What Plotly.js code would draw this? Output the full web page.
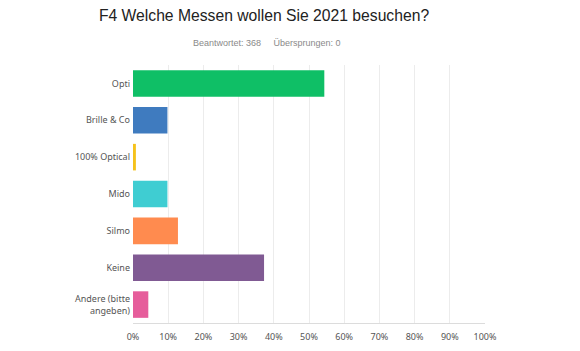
<!DOCTYPE html>
<html>
<head>
<meta charset="utf-8">
<script src="https://cdn.plot.ly/plotly-3.0.1.min.js"></script>
<style>html,body{margin:0;padding:0;background:#fff;}#chart{width:580px;height:351px;}</style>
</head>
<body>
<div id="chart"></div>
<script>
const categories = ["Opti", "Brille & Co", "100% Optical", "Mido", "Silmo", "Keine", "Andere (bitte<br>angeben)"];
const percents = [54.35, 9.78, 0.82, 9.78, 12.77, 37.23, 4.35];
const barColors = ["#0fbf66", "#3f7bbf", "#f5c21b", "#3fcdd2", "#ff8b4f", "#805a93", "#e65d9b"];
const xTickVals = [0, 10, 20, 30, 40, 50, 60, 70, 80, 90, 100];
const xTickText = ["0%", "10%", "20%", "30%", "40%", "50%", "60%", "70%", "80%", "90%", "100%"];

const trace = {
  type: "bar",
  orientation: "h",
  y: categories,
  x: percents,
  marker: {color: barColors},
  width: 0.72,
  hoverinfo: "none"
};

const layout = {
  width: 580,
  height: 351,
  margin: {l: 133, r: 95, t: 65, b: 27.5},
  paper_bgcolor: "#fff",
  plot_bgcolor: "#fff",
  showlegend: false,
  title: {
    text: "F4 Welche Messen wollen Sie 2021 besuchen?",
    font: {family: "Liberation Sans, Arial, sans-serif", size: 15.7, color: "#222"},
    xref: "container", yref: "container",
    x: 264/580, y: 1 - 16/351, xanchor: "center", yanchor: "middle"
  },
  annotations: [{
    text: "Beantwortet: 368&nbsp;&nbsp;&nbsp;&nbsp;&nbsp;Übersprungen: 0",
    xref: "paper", yref: "paper",
    x: (267 - 133) / 352, y: 1 + (65 - 43) / 258.5,
    xanchor: "center", yanchor: "middle",
    showarrow: false,
    font: {family: "Liberation Sans, Arial, sans-serif", size: 9, color: "#8a8a8a"}
  }],
  xaxis: {
    range: [0, 100],
    tickvals: xTickVals,
    ticktext: xTickText,
    showgrid: true,
    gridcolor: "#ececec",
    gridwidth: 1,
    zeroline: false,
    showline: true,
    linecolor: "#dcdcdc",
    linewidth: 1,
    ticks: "",
    ticklabelstandoff: 5,
    tickfont: {family: "Noto Sans, sans-serif", size: 9, color: "#555"},
    fixedrange: true
  },
  yaxis: {
    autorange: "reversed",
    showgrid: false,
    zeroline: false,
    showline: false,
    ticks: "",
    ticklabelstandoff: 2,
    tickfont: {family: "Noto Sans, sans-serif", size: 9, color: "#555"},
    fixedrange: true
  },
  bargap: 0.28
};

Plotly.newPlot("chart", [trace], layout, {displayModeBar: false, staticPlot: true});
</script>
</body>
</html>
